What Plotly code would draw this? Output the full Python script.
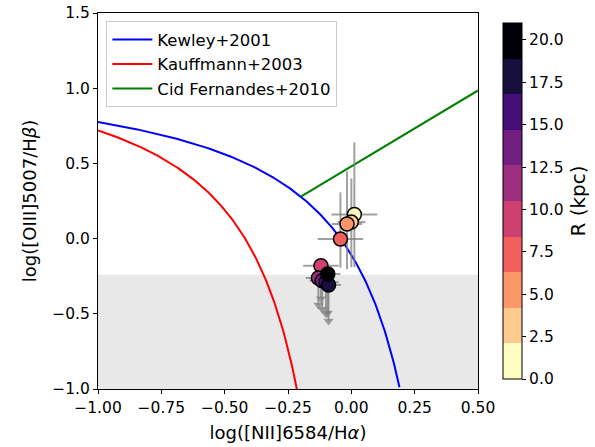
import numpy as np
import plotly.graph_objects as go

# ---- data ----
R_kpc = [1.0, 3.0, 5.0, 7.5, 9.5, 11.5, 13.5, 15.5, 17.5, 20.0]
log_nii_ha = [0.012, 0.000, -0.017, -0.043, -0.120, -0.130, -0.115, -0.100, -0.090, -0.093]
log_oiii_hb = [0.160, 0.110, 0.097, -0.003, -0.180, -0.262, -0.280, -0.290, -0.308, -0.235]
xerr = [0.09, 0.055, 0.06, 0.09, 0.07, 0.05, 0.05, 0.05, 0.05, 0.05]
yerr_up = [0.48, 0.29, 0.35, 0.31, 0.0, 0.0, 0.0, 0.0, 0.0, 0.0]
yerr_lo = [0.35, 0.30, 0.30, 0.19, 0.22, 0.18, 0.19, 0.21, 0.24, 0.26]
upper_limit = [False, False, False, False, True, True, True, True, True, True]

magma_r = ['#fcfdbf', '#feca8d', '#fd9668', '#f1605d', '#cd4071',
           '#9e2f7f', '#721f81', '#440f76', '#180f3d', '#000004']
cbar_ticks = [0, 2.5, 5, 7.5, 10, 12.5, 15, 17.5, 20]
R_max = 21.0
sf_limit_y = -0.24

# ---- demarcation lines ----
xk = np.linspace(-1.0, 0.19, 300)
yk = 0.61 / (xk - 0.47) + 1.19
xka = np.linspace(-1.0, -0.215, 300)
yka = 0.61 / (xka - 0.05) + 1.3
xs = np.linspace(-0.5, 0.1, 20001)
diff = (1.01 * xs + 0.48) - (0.61 / (xs - 0.47) + 1.19)
x0 = xs[np.argmin(np.abs(diff))]
xc = np.array([x0, 0.5])
yc = 1.01 * xc + 0.48

fig = go.Figure()

fig.add_shape(type='rect', x0=-1, x1=0.5, y0=-1, y1=sf_limit_y,
              fillcolor='#e8e8e8', line_width=0, layer='below')

fig.add_trace(go.Scatter(x=xk, y=yk, mode='lines', line=dict(color='blue', width=2),
                         name='Kewley+2001', legendgroup='a'))
fig.add_trace(go.Scatter(x=xka, y=yka, mode='lines', line=dict(color='red', width=2),
                         name='Kauffmann+2003', legendgroup='b'))
fig.add_trace(go.Scatter(x=xc, y=yc, mode='lines', line=dict(color='green', width=2),
                         name='Cid Fernandes+2010', legendgroup='c'))

ecol = 'rgba(128,128,128,0.75)'
fig.add_trace(go.Scatter(
    x=log_nii_ha, y=log_oiii_hb, mode='markers', marker=dict(size=1, opacity=0),
    error_x=dict(type='data', array=xerr, color=ecol, thickness=2, width=0),
    error_y=dict(type='data', array=yerr_up, arrayminus=yerr_lo, symmetric=False,
                 color=ecol, thickness=2, width=0),
    showlegend=False, hoverinfo='skip'))

ax = [x for x, u in zip(log_nii_ha, upper_limit) if u]
ay = [y - e for y, e, u in zip(log_oiii_hb, yerr_lo, upper_limit) if u]
fig.add_trace(go.Scatter(x=ax, y=ay, mode='markers',
                         marker=dict(symbol='triangle-down', size=9, color=ecol),
                         showlegend=False, hoverinfo='skip'))

cs = []
for i, c in enumerate(magma_r):
    cs.append([i / 10, c])
    cs.append([(i + 1) / 10, c])

fig.add_trace(go.Scatter(
    x=log_nii_ha, y=log_oiii_hb, mode='markers', showlegend=False,
    marker=dict(size=14, color=R_kpc, colorscale=cs, cmin=0, cmax=R_max,
                line=dict(color='black', width=1.5),
                colorbar=dict(x=1.0395, xanchor='left', y=0.5, yanchor='middle',
                              len=1.0, lenmode='fraction', thickness=19,
                              outlinecolor='black', outlinewidth=1,
                              tickvals=cbar_ticks, ticktext=[f'{t:.1f}' for t in cbar_ticks],
                              ticks='outside', ticklen=4, tickcolor='black',
                              tickfont=dict(size=15.5, color='black'),
                              title=dict(text='R (kpc)', side='right',
                                         font=dict(size=20, color='black'))))))

axis_common = dict(showline=True, linecolor='black', linewidth=1, mirror=True,
                   ticks='outside', ticklen=4, tickcolor='black', showgrid=False,
                   zeroline=False, tickfont=dict(size=15.5, color='black'),
                   automargin=False)

fig.update_xaxes(range=[-1, 0.5], tickvals=[-1, -0.75, -0.5, -0.25, 0, 0.25, 0.5],
                 tickformat='.2f',
                 title=dict(text='log([NII]6584/H<i>α</i>)', font=dict(size=18, color='black'),
                            standoff=10),
                 **axis_common)
fig.update_yaxes(range=[-1, 1.5], tickvals=[-1, -0.5, 0, 0.5, 1, 1.5], tickformat='.1f',
                 title=dict(text='log([OIII]5007/H<i>β</i>)', font=dict(size=18, color='black'),
                            standoff=10),
                 **axis_common)

fig.update_layout(
    width=595, height=447,
    margin=dict(l=98, r=117, t=13, b=58, autoexpand=False),
    plot_bgcolor='white', paper_bgcolor='white',
    font=dict(family='DejaVu Sans', color='black'),
    legend=dict(x=0.022, y=0.978, xanchor='left', yanchor='top',
                bgcolor='rgba(255,255,255,0.9)', bordercolor='#cccccc', borderwidth=1,
                font=dict(size=16.5), tracegroupgap=0, itemwidth=40),
)

fig.write_html('out.html', config={'displayModeBar': False},
               post_script="document.body.style.margin='0';document.body.style.padding='0';")
